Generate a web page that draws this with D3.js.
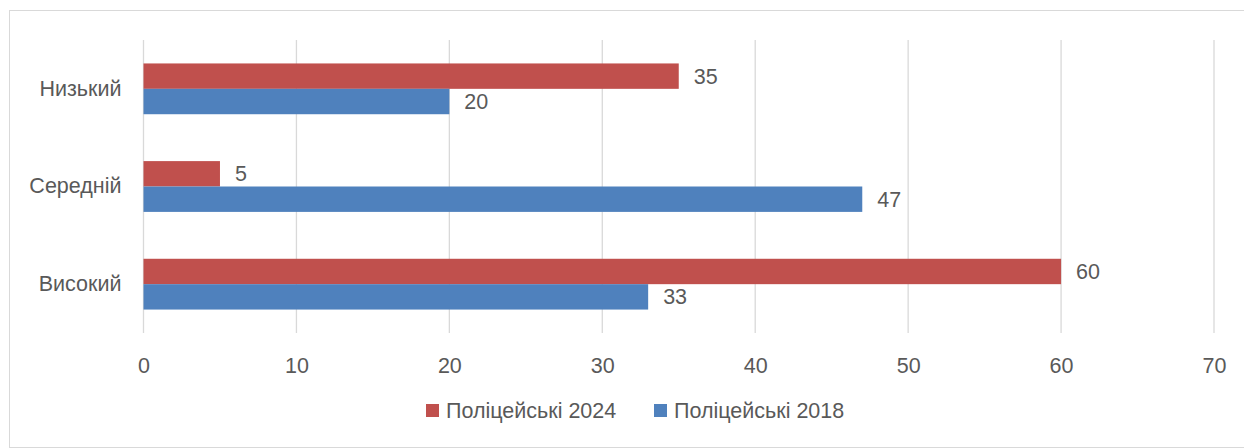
<!DOCTYPE html>
<html>
<head>
<meta charset="utf-8">
<script src="https://cdn.jsdelivr.net/npm/d3@7"></script>
<style>
  body { margin: 0; background: #fff; }
  svg text { font-family: "Liberation Sans", Arial, sans-serif; fill: #595959; }
</style>
</head>
<body>
<div id="chart"></div>
<script>
// data
const categories = ["Низький", "Середній", "Високий"];
const seriesNames = ["Поліцейські 2024", "Поліцейські 2018"];
const values2024 = [35, 5, 60];
const values2018 = [20, 47, 33];
const xTicks = [0, 10, 20, 30, 40, 50, 60, 70];
const colors = ["#C0504D", "#4F81BD"];

const size = {width: 1244, height: 448};
const margin = {top: 40, right: 30, bottom: 115, left: 143.5};
const width = 1214 - margin.left;
const height = 333 - margin.top;
const fontSize = "21.5px";

const svg = d3.select("#chart").append("svg")
    .attr("width", size.width)
    .attr("height", size.height);

// chart border
svg.append("rect")
    .attr("x", 9.5).attr("y", 10.5)
    .attr("width", size.width).attr("height", size.height - 11)
    .attr("fill", "none")
    .attr("stroke", "#d9d9d9");

const g = svg.append("g")
    .attr("transform", "translate(" + margin.left + "," + margin.top + ")");

const x = d3.scaleLinear().domain([0, 70]).range([0, width]);
const y = d3.scaleBand().domain(categories).range([0, height]).paddingInner(0.48).paddingOuter(0.24);
const ySub = d3.scaleBand().domain(seriesNames).range([0, y.bandwidth()]);

// vertical gridlines
g.selectAll(".grid")
    .data(xTicks)
    .join("line")
    .attr("class", "grid")
    .attr("x1", d => x(d)).attr("x2", d => x(d))
    .attr("y1", 0).attr("y2", height)
    .attr("stroke", "#d9d9d9")
    .attr("stroke-width", 1.3);

// x axis labels
const xAxis = g.append("g")
    .attr("transform", "translate(0," + height + ")")
    .call(d3.axisBottom(x).tickValues(xTicks).tickSize(0).tickPadding(25));
xAxis.select(".domain").remove();
xAxis.selectAll("text")
    .style("font-size", fontSize)
    .attr("fill", "#595959");

// y axis labels
const yAxis = g.append("g")
    .call(d3.axisLeft(y).tickSize(0).tickPadding(22));
yAxis.select(".domain").remove();
yAxis.selectAll("text")
    .style("font-size", fontSize)
    .attr("fill", "#595959");

// bars
const rows = categories.map((c, i) => ({cat: c, vals: [values2024[i], values2018[i]]}));
const catG = g.selectAll(".catG")
    .data(rows)
    .join("g")
    .attr("class", "catG")
    .attr("transform", d => "translate(0," + y(d.cat) + ")");

catG.selectAll("rect")
    .data(d => d.vals.map((v, j) => ({name: seriesNames[j], value: v, j: j})))
    .join("rect")
    .attr("x", x(0))
    .attr("y", d => ySub(d.name))
    .attr("width", d => x(d.value) - x(0))
    .attr("height", ySub.bandwidth())
    .attr("fill", d => colors[d.j]);

catG.selectAll(".lbl")
    .data(d => d.vals.map((v, j) => ({name: seriesNames[j], value: v})))
    .join("text")
    .attr("class", "lbl")
    .attr("x", d => x(d.value) + 15)
    .attr("y", d => ySub(d.name) + ySub.bandwidth() / 2)
    .attr("dy", "0.35em")
    .style("font-size", fontSize)
    .text(d => d.value);

// legend
const legend = svg.append("g").attr("transform", "translate(426,404)");
const legendX = [0, 228];
const item = legend.selectAll("g")
    .data(seriesNames)
    .join("g")
    .attr("transform", (d, i) => "translate(" + legendX[i] + ",0)");
item.append("rect")
    .attr("width", 13).attr("height", 13)
    .attr("fill", (d, i) => colors[i]);
item.append("text")
    .attr("x", 20).attr("y", 6.5)
    .attr("dy", "0.35em")
    .style("font-size", fontSize)
    .text(d => d);
</script>
</body>
</html>
